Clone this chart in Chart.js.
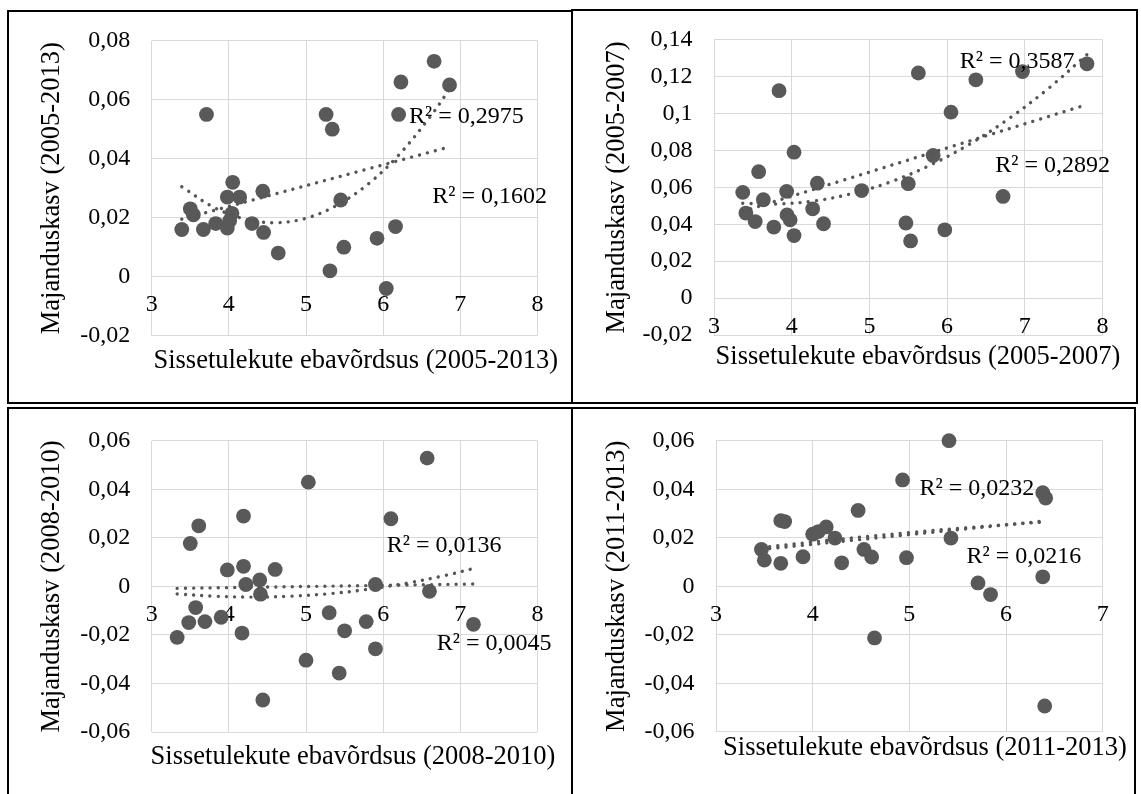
<!DOCTYPE html>
<html>
<head>
<meta charset="utf-8" />
<title>Majanduskasv ja sissetulekute ebavõrdsus</title>
<script src="https://cdn.jsdelivr.net/npm/chart.js@4.4.1/dist/chart.umd.min.js"></script>
<style>
    body { margin: 0; background: #fff; }
    #page { position: relative; width: 1141px; height: 794px; overflow: hidden; background: #fff; }
    canvas { position: absolute; }
    .frame { position: absolute; border: 2px solid #000; box-sizing: border-box; }
</style>
</head>
<body>
<div id="page">
    <canvas id="c1" width="572" height="403" style="left:0px;top:0px"></canvas>
    <canvas id="c2" width="569" height="403" style="left:572px;top:0px"></canvas>
    <canvas id="c3" width="572" height="389" style="left:0px;top:405px"></canvas>
    <canvas id="c4" width="569" height="389" style="left:572px;top:405px"></canvas>
    <div class="frame" style="left:7px;top:10px;width:566px;height:394px"></div>
    <div class="frame" style="left:571px;top:9px;width:567px;height:395px"></div>
    <div class="frame" style="left:7px;top:407px;width:566px;height:400px"></div>
    <div class="frame" style="left:571px;top:407px;width:565px;height:400px"></div>
</div>
<script>
// 2005-2013
var ineq0513 = [3.39, 3.50, 3.54, 3.67, 3.71, 3.83, 3.98, 3.98, 4.04, 4.01, 4.05, 4.14, 4.30, 4.44,
                4.45, 4.64, 5.26, 5.34, 5.31, 5.45, 5.49, 5.92, 6.04, 6.16, 6.20, 6.23, 6.66, 6.86];
var growth0513 = [0.016, 0.023, 0.021, 0.016, 0.055, 0.018, 0.0165, 0.027, 0.0215, 0.019, 0.032, 0.027, 0.018, 0.029,
                  0.015, 0.008, 0.055, 0.050, 0.002, 0.026, 0.010, 0.013, -0.004, 0.017, 0.055, 0.066, 0.073, 0.065];
var linX0513 = [3.39, 6.86];
var linY0513 = [0.0195, 0.0440];
var polyX0513 = [3.39, 3.8, 4.2, 4.6, 5.0, 5.4, 5.8, 6.2, 6.6, 6.86];
var polyY0513 = [0.0305, 0.0236, 0.0196, 0.0183, 0.0198, 0.0242, 0.0313, 0.0412, 0.0539, 0.0635];

// 2005-2007
var ineq0507 = [3.37, 3.41, 3.53, 3.575, 3.635, 3.77, 3.837, 3.935, 3.94, 3.98, 4.03, 4.03, 4.27, 4.33,
                4.41, 4.90, 5.47, 5.50, 5.53, 5.63, 5.82, 5.97, 6.05, 6.37, 6.72, 6.97, 7.80];
var growth0507 = [0.0573, 0.0461, 0.0415, 0.0685, 0.0533, 0.0385, 0.1124, 0.0578, 0.0451, 0.0424, 0.0791, 0.0339, 0.0484, 0.0623,
                  0.0403, 0.0583, 0.0407, 0.0620, 0.0310, 0.1220, 0.0773, 0.0370, 0.1008, 0.1183, 0.0551, 0.1228, 0.1270];
var linX0507 = [3.37, 7.8];
var linY0507 = [0.0470, 0.1049];
var polyX0507 = [3.37, 3.8, 4.3, 4.8, 5.3, 5.8, 6.3, 6.8, 7.3, 7.8];
var polyY0507 = [0.0514, 0.0510, 0.0527, 0.0569, 0.0634, 0.0724, 0.0837, 0.0974, 0.1135, 0.1320];

// 2008-2010
var ineq0810 = [3.33, 3.48, 3.50, 3.57, 3.61, 3.69, 3.90, 3.98, 4.17, 4.19, 4.19, 4.22, 4.40, 4.41,
                4.44, 4.60, 5.00, 5.03, 5.30, 5.43, 5.50, 5.78, 5.90, 5.90, 6.10, 6.57, 6.60, 7.17];
var growth0810 = [-0.021, -0.0149, 0.0177, -0.0087, 0.025, -0.0145, -0.0127, 0.0068, -0.0192, 0.0083, 0.029, 0.0008, 0.0027, -0.0032,
                  -0.0468, 0.007, -0.0304, 0.043, -0.0108, -0.0357, -0.0183, -0.0145, 0.0008, -0.0257, 0.0279, 0.0529, -0.002, -0.0156];
var linX0810 = [3.33, 7.17];
var linY0810 = [-0.0008, 0.0010];
var polyX0810 = [3.33, 3.8, 4.3, 4.8, 5.3, 5.8, 6.3, 6.8, 7.17];
var polyY0810 = [-0.0031, -0.0040, -0.0044, -0.0040, -0.0030, -0.0012, 0.0013, 0.0045, 0.0074];

// 2011-2013
var ineq1113 = [3.47, 3.50, 3.67, 3.71, 3.67, 3.90, 4.00, 4.06, 4.14, 4.23, 4.30, 4.47, 4.53,
                4.61, 4.64, 4.93, 4.97, 5.41, 5.43, 5.71, 5.84, 6.38, 6.38, 6.41, 6.40];
var growth1113 = [0.0152, 0.0108, 0.0271, 0.0267, 0.0095, 0.0122, 0.0215, 0.0226, 0.0245, 0.0199, 0.0097, 0.0313, 0.0152,
                  0.0121, -0.0213, 0.0439, 0.0118, 0.0601, 0.0199, 0.0014, -0.0034, 0.0039, 0.0386, 0.0364, -0.0494];
var linX1113 = [3.47, 6.41];
var linY1113 = [0.0152, 0.0270];
var polyX1113 = [3.47, 4.2, 5.0, 5.7, 6.41];
var polyY1113 = [0.0160, 0.0191, 0.0222, 0.0245, 0.0266];

Chart.defaults.font.family = '"Liberation Serif", "Times New Roman", serif';
Chart.defaults.color = '#000';

var grey = '#595959';

function pairs(xs, ys) {
    return xs.map(function (v, i) { return {x: v, y: ys[i]}; });
}

function trendSet(xs, ys) {
    return {
        type: 'line',
        data: pairs(xs, ys),
        borderColor: '#555555',
        borderWidth: 3.4,
        borderDash: [0.01, 8.2],
        borderCapStyle: 'round',
        pointRadius: 0,
        tension: 0.35,
        fill: false,
        clip: false
    };
}

function fmt(v) {
    return String(Math.round(v * 100) / 100).replace('.', ',');
}

// R² labels and the x title (the x axis sits on y = 0)
var panelText = {
    id: 'panelText',
    afterDatasetsDraw: function (chart, args, opts) {
        var ctx = chart.ctx, sx = chart.scales.x, sy = chart.scales.y;
        ctx.save();
        ctx.fillStyle = '#000';
        ctx.textBaseline = 'middle';
        ctx.textAlign = 'left';
        ctx.font = '24px "Liberation Serif"';
        opts.labels.forEach(function (l) {
            ctx.fillText(l.text, sx.getPixelForValue(l.x), sy.getPixelForValue(l.y));
        });
        ctx.textAlign = 'center';
        ctx.font = '26.5px "Liberation Serif"';
        ctx.fillText(opts.xTitle, opts.titleX, opts.titleY);
        ctx.restore();
    }
};

function makePanel(id, p) {
    new Chart(document.getElementById(id), {
        type: 'scatter',
        data: {
            datasets: [
                trendSet(p.polyX, p.polyY),
                trendSet(p.linX, p.linY),
                {
                    data: pairs(p.x, p.y),
                    backgroundColor: grey,
                    borderWidth: 0,
                    pointRadius: 7.4,
                    pointHoverRadius: 7.4,
                    clip: false
                }
            ]
        },
        options: {
            responsive: false,
            animation: false,
            devicePixelRatio: 1,
            layout: { padding: p.pad },
            plugins: {
                legend: { display: false },
                tooltip: { enabled: false },
                panelText: { labels: p.labels, xTitle: p.xTitle, titleX: p.titleX, titleY: p.titleY }
            },
            scales: {
                x: {
                    type: 'linear',
                    position: { y: 0 },
                    min: 3,
                    max: p.xMax,
                    ticks: { stepSize: 1, padding: 14, font: { size: 24 }, color: '#000' },
                    grid: { color: '#d9d9d9', drawTicks: false },
                    border: { display: false }
                },
                y: {
                    type: 'linear',
                    position: 'left',
                    min: p.yMin,
                    max: p.yMax,
                    ticks: { stepSize: 0.02, padding: 21.5, font: { size: 24 }, color: '#000', callback: fmt },
                    grid: { color: '#d9d9d9', drawTicks: false },
                    border: { display: false },
                    title: {
                        display: true,
                        text: p.yTitle,
                        color: '#000',
                        font: { size: 26.5 },
                        padding: { top: p.yTitlePad, bottom: 0 }
                    },
                    afterFit: function (s) { s.width = p.yWidth; }
                }
            }
        },
        plugins: [panelText]
    });
}

makePanel('c1', {
    x: ineq0513, y: growth0513, linX: linX0513, linY: linY0513, polyX: polyX0513, polyY: polyY0513,
    xMax: 8, yMin: -0.02, yMax: 0.08,
    yTitle: 'Majanduskasv (2005-2013)', xTitle: 'Sissetulekute ebavõrdsus (2005-2013)',
    labels: [{text: 'R² = 0,2975', x: 6.335, y: 0.0541}, {text: 'R² = 0,1602', x: 6.636, y: 0.0271}],
    pad: {left: 0, top: 40.7, right: 34.5, bottom: 67.3}, yWidth: 151.7, yTitlePad: 35.9,
    titleX: 355.8, titleY: 361
});

makePanel('c2', {
    x: ineq0507, y: growth0507, linX: linX0507, linY: linY0507, polyX: polyX0507, polyY: polyY0507,
    xMax: 8, yMin: -0.02, yMax: 0.14,
    yTitle: 'Majanduskasv (2005-2007)', xTitle: 'Sissetulekute ebavõrdsus (2005-2007)',
    labels: [{text: 'R² = 0,3587', x: 6.162, y: 0.1282}, {text: 'R² = 0,2892', x: 6.620, y: 0.0719}],
    pad: {left: 0, top: 39.8, right: 38.5, bottom: 68}, yWidth: 142, yTitlePad: 29.4,
    titleX: 346, titleY: 356.7
});

makePanel('c3', {
    x: ineq0810, y: growth0810, linX: linX0810, linY: linY0810, polyX: polyX0810, polyY: polyY0810,
    xMax: 8, yMin: -0.06, yMax: 0.06,
    yTitle: 'Majanduskasv (2008-2010)', xTitle: 'Sissetulekute ebavõrdsus (2008-2010)',
    labels: [{text: 'R² = 0,0136', x: 6.047, y: 0.0167}, {text: 'R² = 0,0045', x: 6.694, y: -0.0237}],
    pad: {left: 0, top: 31.7, right: 34.5, bottom: 62}, yWidth: 151.7, yTitlePad: 35.9,
    titleX: 353, titleY: 351.7
});

makePanel('c4', {
    x: ineq1113, y: growth1113, linX: linX1113, linY: linY1113, polyX: polyX1113, polyY: polyY1113,
    xMax: 7, yMin: -0.06, yMax: 0.06,
    yTitle: 'Majanduskasv (2011-2013)', xTitle: 'Sissetulekute ebavõrdsus (2011-2013)',
    labels: [{text: 'R² = 0,0232', x: 5.106, y: 0.0401}, {text: 'R² = 0,0216', x: 5.591, y: 0.0123}],
    pad: {left: 0, top: 31.3, right: 38.3, bottom: 62.3}, yWidth: 144, yTitlePad: 29.4,
    titleX: 353, titleY: 343.3
});
</script>
</body>
</html>
